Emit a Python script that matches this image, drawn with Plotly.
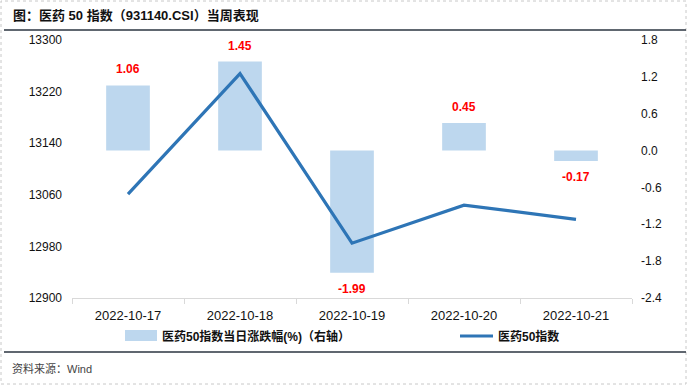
import plotly.graph_objects as go

dates = ["2022-10-17", "2022-10-18", "2022-10-19", "2022-10-20", "2022-10-21"]
pct_change = [1.06, 1.45, -1.99, 0.45, -0.17]
index_close = [13061, 13248, 12985, 13044, 13022]
left_ticks = [12900, 12980, 13060, 13140, 13220, 13300]
right_ticks = [-2.4, -1.8, -1.2, -0.6, 0.0, 0.6, 1.2, 1.8]

L, R, T, B = 72, 632, 40, 298
W, H = 688, 386

def px(x):
    return (x - L) / (R - L)

def py(y):
    return (B - y) / (B - T)

cjk = "Liberation Sans, Arial, Noto Sans CJK SC, sans-serif"

fig = go.Figure()
fig.add_trace(go.Bar(
    x=dates, y=pct_change, yaxis="y", width=0.39,
    marker=dict(color="#bdd7ee", line=dict(width=0)),
    showlegend=False, name="医药50指数当日涨跌幅(%)（右轴）",
))
fig.add_trace(go.Scatter(
    x=dates, y=index_close, yaxis="y2", mode="lines",
    line=dict(color="#2e75b6", width=3.2), showlegend=False, name="医药50指数",
))

shapes = [
    dict(type="rect", xref="paper", yref="paper", x0=px(1), x1=px(686), y0=py(384), y1=py(1),
         line=dict(color="#c8c8c8", width=1, dash="dot")),
    dict(type="line", xref="paper", yref="paper", x0=px(4), x1=px(686), y0=py(30), y1=py(30),
         line=dict(color="#2b3440", width=1.5)),
    dict(type="line", xref="paper", yref="paper", x0=px(4), x1=px(686), y0=py(352), y1=py(352),
         line=dict(color="#2b3440", width=1.5)),
    dict(type="rect", xref="paper", yref="paper", x0=px(125), x1=px(157), y0=py(341), y1=py(330),
         fillcolor="#bdd7ee", line=dict(width=0)),
    dict(type="line", xref="paper", yref="paper", x0=px(460), x1=px(493), y0=py(336), y1=py(336),
         line=dict(color="#2e75b6", width=3.2)),
]

annotations = [
    dict(text="<b>图：医药 50 指数（931140.CSI）当周表现</b>", xref="paper", yref="paper",
         x=px(11), y=py(15), xanchor="left", yanchor="middle", showarrow=False,
         font=dict(size=13, color="#111111", family=cjk)),
    dict(text="资料来源：Wind", xref="paper", yref="paper",
         x=px(10), y=py(368), xanchor="left", yanchor="middle", showarrow=False,
         font=dict(size=11, color="#444444", family=cjk)),
    dict(text="<b>医药50指数当日涨跌幅(%)（右轴）</b>", xref="paper", yref="paper",
         x=px(160), y=py(336), xanchor="left", yanchor="middle", showarrow=False,
         font=dict(size=12, color="#111111", family=cjk)),
    dict(text="<b>医药50指数</b>", xref="paper", yref="paper",
         x=px(496), y=py(336), xanchor="left", yanchor="middle", showarrow=False,
         font=dict(size=12, color="#111111", family=cjk)),
]
for d, v in zip(dates, pct_change):
    annotations.append(dict(
        text=f"<b>{v:.2f}</b>", xref="x", yref="y", x=d, y=v,
        yshift=16 if v >= 0 else -16, xanchor="center", yanchor="middle",
        showarrow=False, font=dict(size=12, color="#ff0000", family=cjk),
    ))

fig.update_layout(
    width=W, height=H,
    margin=dict(l=L, r=W - R, t=T, b=H - B, autoexpand=False),
    paper_bgcolor="white", plot_bgcolor="white",
    font=dict(family=cjk, size=12, color="#111111"),
    xaxis=dict(type="category", showgrid=False, showline=True, linecolor="#d9d9d9", linewidth=1,
               ticks="outside", tickson="boundaries", ticklen=5, tickcolor="#d9d9d9",
               tickfont=dict(size=13), ticklabelstandoff=5),
    yaxis=dict(side="right", range=[-2.4, 1.8], tickvals=right_ticks,
               ticktext=[f"{v:.1f}" for v in right_ticks], showgrid=False, zeroline=False,
               showline=False, ticks="", tickfont=dict(size=12), ticklabelstandoff=8),
    yaxis2=dict(side="left", overlaying="y", range=[12900, 13300], tickvals=left_ticks,
                ticktext=[str(v) for v in left_ticks],
                showgrid=False, zeroline=False, showline=False, ticks="",
                tickfont=dict(size=12), ticklabelstandoff=9),
    shapes=shapes, annotations=annotations, showlegend=False,
)

fig.write_html("out.html", config={"displayModeBar": False},
               post_script="document.body.style.margin='0';document.body.style.overflow='hidden';")
